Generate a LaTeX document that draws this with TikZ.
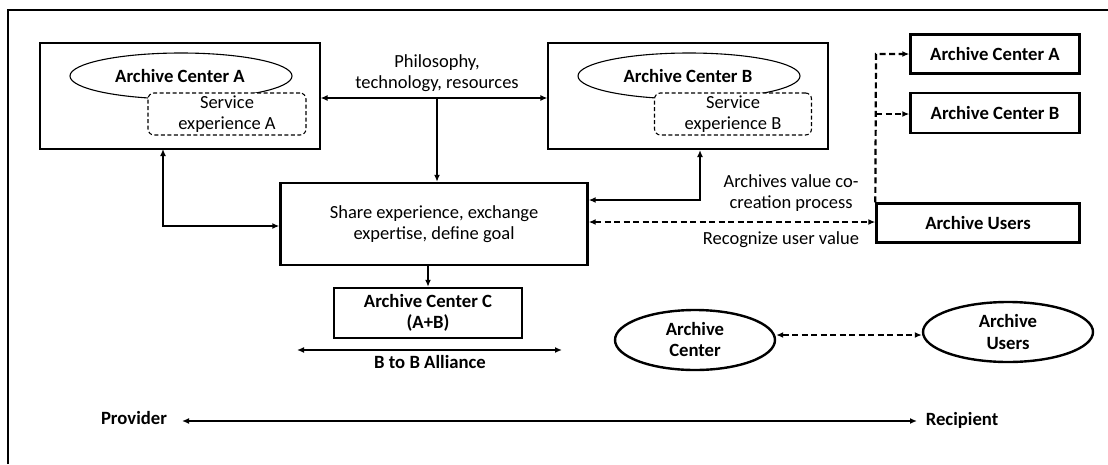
\documentclass[tikz,border=0pt]{standalone}
\usepackage{fontspec}
\setmainfont{Carlito}
\usetikzlibrary{arrows.meta,shapes.geometric}
\newcommand\reg{\fontsize{18.5}{21}\selectfont}
\newcommand\bld{\fontsize{18.7}{21}\selectfont\bfseries}
\tikzset{
  thinbox/.style={draw,line width=1.1pt,inner sep=0pt},
  thickbox/.style={draw,line width=2.4pt,inner sep=0pt,fill=white},
  svc/.style={draw,dashed,line width=1.1pt,rounded corners=6pt,fill=white,inner sep=0pt,align=center,dash pattern=on 4pt off 2.5pt,font=\reg},
  oval/.style={draw,ellipse,line width=1.1pt,inner sep=0pt},
  boval/.style={draw,ellipse,line width=2.4pt,inner sep=0pt,align=center,font=\bld},
  lbl/.style={align=center,inner sep=0pt,font=\reg},
  blbl/.style={align=center,inner sep=0pt,font=\bld},
  conn/.style={line width=2.2pt,{Latex[length=7pt,width=6pt]}-{Latex[length=7pt,width=6pt]}},
  oneway/.style={line width=2.2pt,-{Latex[length=7pt,width=6pt]}},
  dconn/.style={line width=2.2pt,dash pattern=on 6pt off 3.5pt,{Latex[length=7pt,width=6pt]}-{Latex[length=7pt,width=6pt]}},
  dway/.style={line width=2.2pt,dash pattern=on 6pt off 3.5pt,-{Latex[length=7pt,width=6pt]}}
}
\begin{document}
\begin{tikzpicture}[x=1pt,y=-1pt]
\useasboundingbox (0,0) rectangle (1108,464);
\draw[line width=2.2pt] (8,464) -- (8,10) -- (1108,10);

% Archive center A
\node[thinbox,minimum width=280,minimum height=106] (boxA) at (180,96) {};
\node[oval,minimum width=222,minimum height=46] (ellA) at (181,76) {};
\node[svc,minimum width=158,minimum height=42] (svcA) at (227,114) {Service\\experience A};
\node[blbl] (txtA) at (180,76) {Archive Center A};

% Archive center B
\node[thinbox,minimum width=280,minimum height=106] (boxB) at (688,96) {};
\node[oval,minimum width=222,minimum height=46] (ellB) at (689,76) {};
\node[svc,minimum width=157,minimum height=42] (svcB) at (733,114) {Service\\experience B};
\node[blbl] (txtB) at (688,76) {Archive Center B};

\node[lbl] (phil) at (437,73) {Philosophy,\\technology, resources};
\coordinate (mid) at (437,98);

% central box
\node[thickbox,minimum width=307,minimum height=82,align=center,font=\reg] (share) at (434,224) {Share experience, exchange\\expertise, define goal};

\node[thickbox,minimum width=188,minimum height=50,align=center,font=\bld] (boxC) at (428,313) {Archive Center C\\(A+B)};

\draw[conn] (boxA.east |- mid) -- (boxB.west |- mid);
\draw[oneway] (mid) -- (mid |- share.north);
\draw[oneway] (share.south -| boxC.north) -- (boxC.north);

\draw[conn] (163,149) -- (163,226) -- (share.west |- 0,226);
\draw[conn] (700,150) -- (700,200) -- (share.east |- 0,200);

\coordinate (bbl) at (297,350);
\coordinate (bbr) at (562,350);
\draw[conn] (bbl) -- (bbr);
\node[blbl] (bb) at (430,362) {B to B Alliance};

% right column
\node[thickbox,minimum width=169,minimum height=39,font=\bld] (rA) at (995,54) {Archive Center A};
\node[thickbox,minimum width=169,minimum height=40,font=\bld] (rB) at (995,113) {Archive Center B};
\node[thickbox,minimum width=203,minimum height=39,font=\bld] (users) at (978,223) {Archive Users};

\draw[dway] (users.north west) -- (876,54) -- (rA.west);
\draw[dway] (876,114) -- (rB.west |- 0,114);
\draw[dconn] (share.east |- 0,222) -- (users.west |- 0,222);

\node[lbl] (vc) at (791,193) {Archives value co-\\creation process};
\node[lbl] (ruv) at (781,240) {Recognize user value};

% bottom ellipses
\node[boval,minimum width=160,minimum height=60] (ac) at (695,340) {Archive\\Center};
\node[boval,minimum width=170,minimum height=60] (au) at (1008,332) {Archive\\Users};
\draw[dconn] (ac.east |- 0,335) -- (au.west |- 0,335);

\node[blbl] (prov) at (134,418) {Provider};
\node[blbl] (rec) at (962,420) {Recipient};
\draw[conn] (182,421) -- (917,421);
\end{tikzpicture}
\end{document}
